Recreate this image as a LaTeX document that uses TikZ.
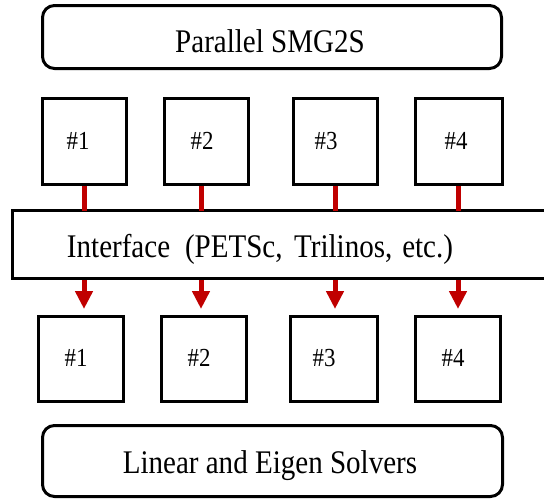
\documentclass[tikz,border=0pt]{standalone}
\usepackage{fontspec}
\setmainfont{Liberation Serif}
\newfontfamily\sqfont[FakeStretch=0.88]{Liberation Serif}
\usetikzlibrary{arrows.meta}
\definecolor{arrowred}{RGB}{192,0,0}
\begin{document}
\begin{tikzpicture}[x=1pt,y=-1pt,
  box/.style={draw=black,line width=3pt,inner sep=0pt,outer sep=0pt,fill=white},
  rbox/.style={box,rounded corners=12pt},
  bigtxt/.style={anchor=base,inner sep=0pt,font=\sqfont\fontsize{33}{36}\selectfont},
  numtxt/.style={anchor=base,inner sep=0pt,font=\sqfont\fontsize{26}{30}\selectfont},
  link/.style={draw=arrowred,line width=5pt},
  flow/.style={link,-{Triangle[width=17pt,length=18pt]}}]
\useasboundingbox (0,0) rectangle (544,499);
\clip (0,0) rectangle (544,499);
% top
\node[rbox,minimum width=459pt,minimum height=63pt] (smg) at (272,37) {};
\node[bigtxt] (smgt) at (270,52) {Parallel SMG2S};
% top small boxes
\node[box,minimum width=84pt,minimum height=86pt] (t1) at (84.5,141.5) {};
\node[box,minimum width=84pt,minimum height=86pt] (t2) at (206.5,141.5) {};
\node[box,minimum width=84pt,minimum height=86pt] (t3) at (335.5,141.5) {};
\node[box,minimum width=87pt,minimum height=86pt] (t4) at (459,141.5) {};
\node[numtxt] (t1t) at (78,149) {\#1};
\node[numtxt] (t2t) at (202,149) {\#2};
\node[numtxt] (t3t) at (326,149) {\#3};
\node[numtxt] (t4t) at (456,149) {\#4};
% interface
\node[box,minimum width=587pt,minimum height=68pt] (ifc) at (306,244.5) {};
\node[bigtxt] (ifct) at (260,257) {Interface\hspace{0.45em}(PETSc,\hspace{0.35em}Trilinos,\hspace{0.3em}etc.)};
% bottom small boxes
\node[box,minimum width=85pt,minimum height=85pt] (b1) at (81,359) {};
\node[box,minimum width=85pt,minimum height=85pt] (b2) at (204,359) {};
\node[box,minimum width=87pt,minimum height=85pt] (b3) at (334,359) {};
\node[box,minimum width=85pt,minimum height=85pt] (b4) at (458,359) {};
\node[numtxt] (b1t) at (76,366) {\#1};
\node[numtxt] (b2t) at (199,366) {\#2};
\node[numtxt] (b3t) at (324,366) {\#3};
\node[numtxt] (b4t) at (453,366) {\#4};
% bottom
\node[rbox,minimum width=460pt,minimum height=71pt] (sol) at (272.5,461) {};
\node[bigtxt] (solt) at (270,473) {Linear and Eigen Solvers};
% connectors top -> interface
\begin{scope}[on background layer/.style={}]
\end{scope}
\coordinate (a1) at (84,309);
\coordinate (a2) at (201,309);
\coordinate (a3) at (335,309);
\coordinate (a4) at (458,309);
\draw[link] (t1.south -| a1) ++(0,1.5) -- (ifc.north -| a1);
\draw[link] (t2.south -| a2) ++(0,1.5) -- (ifc.north -| a2);
\draw[link] (t3.south -| a3) ++(0,1.5) -- (ifc.north -| a3);
\draw[link] (t4.south -| a4) ++(0,1.5) -- (ifc.north -| a4);
\draw[flow] (ifc.south -| a1) ++(0,1.5) -- (a1);
\draw[flow] (ifc.south -| a2) ++(0,1.5) -- (a2);
\draw[flow] (ifc.south -| a3) ++(0,1.5) -- (a3);
\draw[flow] (ifc.south -| a4) ++(0,1.5) -- (a4);
\end{tikzpicture}
\end{document}
